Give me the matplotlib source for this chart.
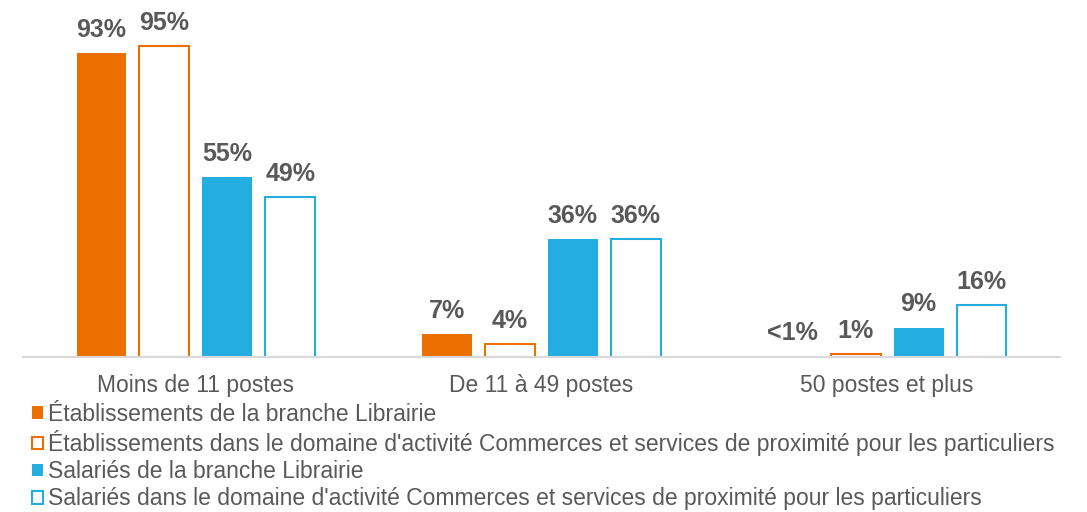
"""Répartition des établissements et salariés par taille."""

import matplotlib

matplotlib.use("Agg")

import matplotlib.pyplot as plt
import numpy as np
from matplotlib.patches import Patch

categories = ["Moins de 11 postes", "De 11 à 49 postes", "50 postes et plus"]
series_names = [
    "Établissements de la branche Librairie",
    "Établissements dans le domaine d'activité Commerces et services de proximité pour les particuliers",
    "Salariés de la branche Librairie",
    "Salariés dans le domaine d'activité Commerces et services de proximité pour les particuliers",
]
etab_librairie = [93, 7, 0.3]
etab_proximite = [95, 4, 1]
sal_librairie = [55, 36, 9]
sal_proximite = [49, 36, 16]
value_labels = [
    ["93%", "7%", "<1%"],
    ["95%", "4%", "1%"],
    ["55%", "36%", "9%"],
    ["49%", "36%", "16%"],
]

ORANGE = "#EC7000"
BLUE = "#23ADE1"
TEXT = "#595959"

plt.rcParams["font.family"] = ["Liberation Sans", "DejaVu Sans"]

fig = plt.figure(figsize=(10.87, 5.12), dpi=100)
ax = fig.add_axes([23 / 1087, 1 - 357 / 512, 1037 / 1087, (357 - 20) / 512])

x = np.arange(len(categories))
width = 0.144
step = 0.182
offsets = [-1.5 * step, -0.5 * step, 0.5 * step, 1.5 * step]
series = [etab_librairie, etab_proximite, sal_librairie, sal_proximite]
styles = [
    dict(color=ORANGE, edgecolor=ORANGE, linewidth=0),
    dict(color="white", edgecolor=ORANGE, linewidth=1.5),
    dict(color=BLUE, edgecolor=BLUE, linewidth=0),
    dict(color="white", edgecolor=BLUE, linewidth=1.5),
]

for i, (vals, off, st) in enumerate(zip(series, offsets, styles)):
    bars = ax.bar(x + off, vals, width, zorder=2, **st)
    for b, lab in zip(bars, value_labels[i]):
        ax.annotate(
            lab,
            (b.get_x() + b.get_width() / 2, b.get_height()),
            xytext=(0, 8),
            textcoords="offset points",
            ha="center",
            va="bottom",
            fontsize=18,
            fontweight="bold",
            color=TEXT,
        )

ax.set_xlim(-0.5, 2.5)
ax.set_ylim(0, 103)
for side in ["top", "right", "left"]:
    ax.spines[side].set_visible(False)
ax.spines["bottom"].set_color("#D9D9D9")
ax.spines["bottom"].set_linewidth(1.5)
ax.set_yticks([])
ax.set_xticks(x)
ax.set_xticklabels(categories, fontsize=16.5, color=TEXT)
ax.tick_params(axis="x", length=0, pad=12)

handles = [
    Patch(facecolor=ORANGE, edgecolor=ORANGE, linewidth=0),
    Patch(facecolor="white", edgecolor=ORANGE, linewidth=1.5),
    Patch(facecolor=BLUE, edgecolor=BLUE, linewidth=0),
    Patch(facecolor="white", edgecolor=BLUE, linewidth=1.5),
]
fig.legend(
    handles,
    series_names,
    loc="upper left",
    bbox_to_anchor=(32 / 1087, 1 - 403 / 512),
    frameon=False,
    fontsize=16.5,
    labelcolor=TEXT,
    handlelength=0.48,
    handleheight=0.48,
    handletextpad=0.22,
    labelspacing=0.18,
    borderpad=0,
    borderaxespad=0,
)

fig.savefig("out.png", dpi=100)
